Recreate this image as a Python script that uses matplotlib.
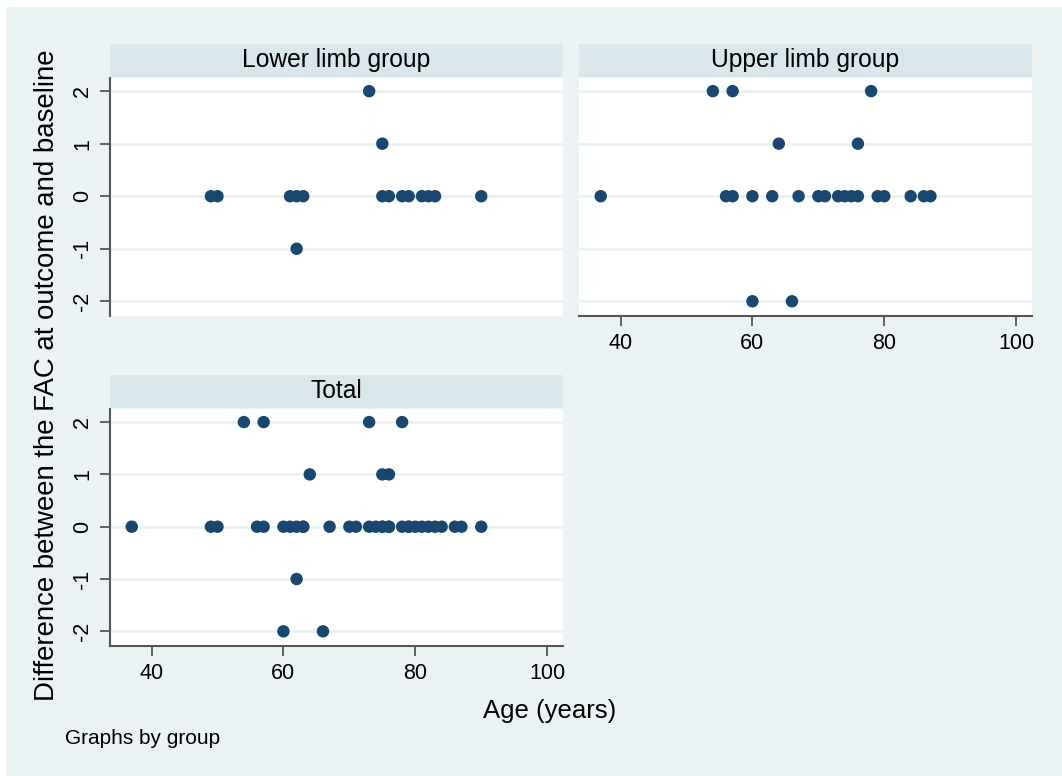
import matplotlib
matplotlib.use("Agg")
import matplotlib.pyplot as plt

# Age (years) and change in FAC score, read per group
lower_age = [49, 50, 61, 62, 63, 75, 76, 78, 79, 81, 82, 83, 90, 73, 75, 62]
lower_fac = [0, 0, 0, 0, 0, 0, 0, 0, 0, 0, 0, 0, 0, 2, 1, -1]

upper_age = [54, 57, 78, 64, 76, 37, 56, 57, 60, 63, 67, 70, 71, 73, 74, 75, 76,
             79, 80, 84, 86, 87, 60, 66]
upper_fac = [2, 2, 2, 1, 1, 0, 0, 0, 0, 0, 0, 0, 0, 0, 0, 0, 0,
             0, 0, 0, 0, 0, -2, -2]

# the "Total" panel pools both groups
total_age = lower_age + upper_age
total_fac = lower_fac + upper_fac

x_ticks = [40, 60, 80, 100]
y_ticks = [-2, -1, 0, 1, 2]

BG = "#eaf2f3"
STRIP = "#d9e6eb"
MARKER = "#1a476f"
AXIS = "#555555"

W, H = 1062, 776
plt.rcParams["font.family"] = ["Liberation Sans", "DejaVu Sans"]
plt.rcParams["axes.unicode_minus"] = False
fig = plt.figure(figsize=(W / 100, H / 100), dpi=100)
fig.patch.set_facecolor("white")

# light background area inside a thin white margin
fig.patches.append(plt.Rectangle((6 / W, 0), 1 - 6 / W, 1 - 7 / H,
                                 transform=fig.transFigure, facecolor=BG,
                                 edgecolor="none", zorder=-10))


def px_axes(x0, y0, x1, y1, **kw):
    """Add axes from pixel box (top-left origin)."""
    return fig.add_axes([x0 / W, 1 - y1 / H, (x1 - x0) / W, (y1 - y0) / H], **kw)


def panel(box, strip_box, title, ages, facs, show_x, show_y):
    ax = px_axes(*box)
    ax.set_facecolor("white")
    ax.scatter(ages, facs, s=80, color=MARKER, edgecolors="none", zorder=3,
               clip_on=False)
    ax.set_xlim(33.7, 102.4)
    ax.set_ylim(-2.28, 2.25)
    ax.set_yticks(y_ticks)
    ax.set_xticks(x_ticks)
    for y in y_ticks:
        ax.axhline(y, color=BG, lw=2, zorder=1)
    for s in ax.spines.values():
        s.set_visible(False)
    ax.tick_params(colors=AXIS, labelcolor="black", labelsize=15.5,
                   width=1.3, length=7)
    if show_y:
        ax.spines["left"].set_visible(True)
        ax.spines["left"].set_color(AXIS)
        ax.spines["left"].set_linewidth(1.5)
        ax.tick_params(axis="y", pad=5)
        for lbl in ax.get_yticklabels():
            lbl.set_rotation(90)
            lbl.set_va("center")
    else:
        ax.tick_params(axis="y", left=False, labelleft=False)
    if show_x:
        ax.spines["bottom"].set_visible(True)
        ax.spines["bottom"].set_color(AXIS)
        ax.spines["bottom"].set_linewidth(1.5)
        ax.tick_params(axis="x", pad=5)
    else:
        ax.tick_params(axis="x", bottom=False, labelbottom=False)

    st = px_axes(*strip_box)
    st.set_facecolor(STRIP)
    st.set_xticks([])
    st.set_yticks([])
    for s in st.spines.values():
        s.set_visible(False)
    st.text(0.5, 0.5, title, ha="center", va="center", fontsize=17.7,
            transform=st.transAxes)
    return ax


panel((110, 78, 563, 316), (110, 44, 563, 77), "Lower limb group",
      lower_age, lower_fac, show_x=False, show_y=True)
panel((579, 78, 1032, 316), (579, 44, 1032, 77), "Upper limb group",
      upper_age, upper_fac, show_x=True, show_y=False)
panel((110, 409, 563, 646), (110, 375, 563, 408), "Total",
      total_age, total_fac, show_x=True, show_y=True)

fig.text(47 / W, 1 - 375 / H, "Difference between the FAC at outcome and baseline",
         rotation=90, ha="center", va="center", fontsize=19.9)
fig.text(550 / W, 1 - 711 / H, "Age (years)", ha="center", va="center",
         fontsize=18.5)
fig.text(65 / W, 1 - 739 / H, "Graphs by group", ha="left", va="center",
         fontsize=15)

fig.savefig("out.png", dpi=100, facecolor=fig.get_facecolor())
